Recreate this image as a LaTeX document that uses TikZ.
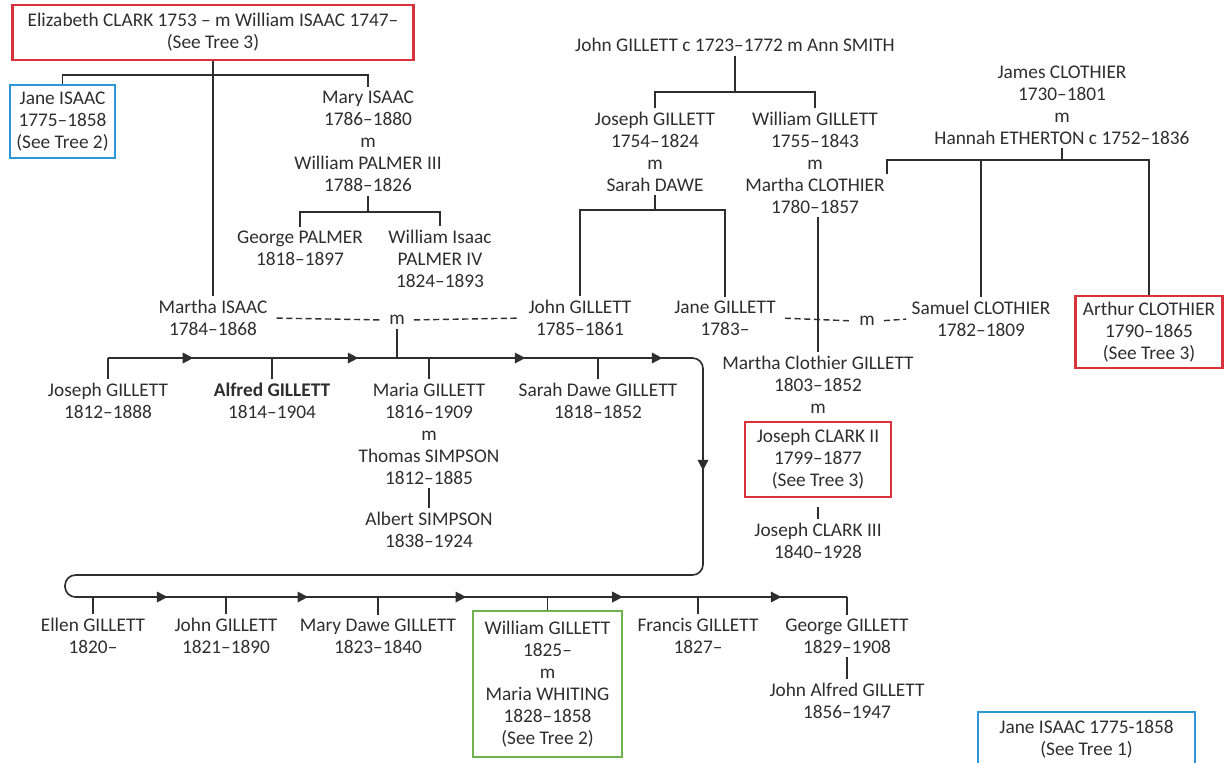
\documentclass[tikz,border=0pt]{standalone}
\usepackage{fontspec}
\setmainfont{Carlito}
\usetikzlibrary{arrows.meta,decorations.markings}
\definecolor{ink}{HTML}{2E2E2E}
\definecolor{treered}{HTML}{D8333B}
\definecolor{treeblue}{HTML}{2C96D6}
\definecolor{treegreen}{HTML}{6DB24F}

\begin{document}
\begin{tikzpicture}[x=0.02cm,y=-0.02cm,
  every node/.style={font=\fontsize{11}{12.5}\selectfont, text=ink, align=center, inner sep=2pt},
  framed/.style={draw=#1, line width=1.2pt, inner sep=0pt},
  link/.style={draw=ink, line width=0.95pt},
  wed/.style={draw=ink, line width=0.8pt, dash pattern=on 3.5pt off 2pt, shorten <=3pt, shorten >=3pt},
  midarrow/.style={postaction={decorate},
    decoration={markings, mark=at position #1 with {\arrow{Triangle[length=6pt,width=6pt]}}}},
]
\useasboundingbox (0,0) rectangle (1230,762);
\clip (0,0) rectangle (1230,762);

% ---------- Isaac family ----------
\node[framed=treered, minimum width=8.02cm, minimum height=1.1cm] (top) at (213,32.5)
  {Elizabeth CLARK 1753 – m William ISAAC 1747–\\(See Tree 3)};
\node[framed=treeblue, minimum width=2.1cm, minimum height=1.46cm] (janeA) at (62.5,121.5)
  {Jane ISAAC\\1775–1858\\(See Tree 2)};
\node (mary) at (368,141.5) {Mary ISAAC\\1786–1880\\m\\William PALMER III\\1788–1826};
\node (georgeP) at (300,248.5) {George PALMER\\1818–1897};
\node (wip) at (440,259) {William Isaac\\PALMER IV\\1824–1893};
\node (martha) at (213,318) {Martha ISAAC\\1784–1868};

% ---------- Gillett family ----------
\node (jg1723) at (735,45) {John GILLETT c 1723–1772 m Ann SMITH};
\node (josephG) at (655,151.5) {Joseph GILLETT\\1754–1824\\m\\Sarah DAWE};
\node (williamG) at (815,162.5) {William GILLETT\\1755–1843\\m\\Martha CLOTHIER\\1780–1857};
\node (johnG) at (580,318) {John GILLETT\\1785–1861};
\node (janeG) at (725,318) {Jane GILLETT\\1783–};
\node (m1) at (397,320) {m};

% ---------- Clothier family ----------
\node (james) at (1062,105) {James CLOTHIER\\1730–1801\\m\\Hannah ETHERTON c 1752–1836};
\node (samuel) at (981,319) {Samuel CLOTHIER\\1782–1809};
\node[framed=treered, minimum width=2.94cm, minimum height=1.44cm] (arthur) at (1149,332)
  {Arthur CLOTHIER\\1790–1865\\(See Tree 3)};
\node (m2) at (867,321) {m};
\node (marthaCG) at (818,385) {Martha Clothier GILLETT\\1803–1852\\m};
\node[framed=treered, minimum width=2.92cm, minimum height=1.5cm] (clark2) at (818,459.5)
  {Joseph CLARK II\\1799–1877\\(See Tree 3)};
\node (clark3) at (818,541) {Joseph CLARK III\\1840–1928};

% ---------- children of John and Martha ----------
\node (josephC) at (108,400.5) {Joseph GILLETT\\1812–1888};
\node (alfred) at (272,400.5) {\textbf{Alfred GILLETT}\\1814–1904};
\node (maria) at (429,433.5) {Maria GILLETT\\1816–1909\\m\\Thomas SIMPSON\\1812–1885};
\node (albert) at (429,529.5) {Albert SIMPSON\\1838–1924};
\node (sarahDG) at (598,400.5) {Sarah Dawe GILLETT\\1818–1852};

\node (ellen) at (93,636) {Ellen GILLETT\\1820–};
\node (johnC) at (226,636) {John GILLETT\\1821–1890};
\node (maryDG) at (378,636) {Mary Dawe GILLETT\\1823–1840};
\node[framed=treegreen, minimum width=2.98cm, minimum height=2.92cm] (williamC) at (547.5,684)
  {William GILLETT\\1825–\\m\\Maria WHITING\\1828–1858\\(See Tree 2)};
\node (francis) at (698,636) {Francis GILLETT\\1827–};
\node (georgeG) at (847,636) {George GILLETT\\1829–1908};
\node (johnAlfred) at (847,701) {John Alfred GILLETT\\1856–1947};

\node[framed=treeblue, minimum width=4.34cm, minimum height=1.08cm] (janeB) at (1086.5,739)
  {Jane ISAAC 1775-1858\\(See Tree 1)};

% ---------- junction points ----------
\coordinate (bIsaac) at (213,75);
\coordinate (bPalmer) at (368,212);
\coordinate (bGillett) at (735,92);
\coordinate (bDawe) at (655,210);
\coordinate (bClothier) at (1062,160);
\coordinate (mcTip) at (887,174);
\coordinate (wgFoot) at (marthaCG.north |- williamG.south);

% chain of children
\coordinate (t0) at (108,358);
\coordinate (k1) at (alfred.north |- t0);
\coordinate (kM) at (m1.south |- t0);
\coordinate (k2) at (maria.north |- t0);
\coordinate (k3) at (sarahDG.north |- t0);
\coordinate (tRa) at (690,358);
\coordinate (tR) at (703,358);
\coordinate (tRb) at (703,369);
\coordinate (bRa) at (703,564);
\coordinate (bR) at (703,575);
\coordinate (bL) at (65,575);
\coordinate (bL2) at (65,597);
\coordinate (e1) at (ellen.north |- bL2);
\coordinate (e2) at (johnC.north |- bL2);
\coordinate (e3) at (maryDG.north |- bL2);
\coordinate (e4) at (williamC.north |- bL2);
\coordinate (e5) at (francis.north |- bL2);
\coordinate (bEnd) at (georgeG.north |- bL2);

% ---------- connectors ----------
\draw[link] (top.south) -- (martha.north);
\draw[link] (janeA.north) |- (bIsaac) -| (mary.north);
\draw[link] (mary.south) -- (bPalmer);
\draw[link] (georgeP.north) |- (bPalmer) -| (wip.north);

\draw[link] (jg1723.south) -- (bGillett);
\draw[link] (josephG.north) |- (bGillett) -| (williamG.north);
\draw[link] (josephG.south) -- (bDawe);
\draw[link] (johnG.north) |- (bDawe) -| (janeG.north);
\draw[link] (wgFoot) -- (marthaCG.north);

\draw[link] (james.south) -- (bClothier);
\draw[link] (mcTip) |- (bClothier) -| (arthur.north);
\draw[link] (samuel.north |- bClothier) -- (samuel.north);

\draw[wed] (martha.east) -- (m1.west);
\draw[wed] (m1.east) -- (johnG.west);
\draw[wed] (janeG.east) -- (m2.west);
\draw[wed, shorten >=1pt] (m2.east) -- (samuel.west);

\draw[link, shorten <=5pt] (clark2.south) -- (clark3.north);
\draw[link] (maria.south) -- (albert.north);
\draw[link] (georgeG.south) -- (johnAlfred.north);

% the line of children
\draw[link] (m1.south) -- (kM);
\draw[link, rounded corners=0.21cm] (t0) -- (tR) -- (bR) -- (bL) -- (bL2) -- (bEnd);
\draw[link, midarrow=0.52] (t0) -- (k1);
\draw[link, midarrow=0.55] (k1) -- (k2);
\draw[link, midarrow=0.57] (k2) -- (k3);
\draw[link, midarrow=0.7] (k3) -- (tRa);
\draw[link, midarrow=0.52] (tRb) -- (bRa);
\draw[link, midarrow=0.56] (e1) -- (e2);
\draw[link, midarrow=0.54] (e2) -- (e3);
\draw[link, midarrow=0.52] (e3) -- (e4);
\draw[link, midarrow=0.5] (e4) -- (e5);
\draw[link, midarrow=0.56] (e5) -- (bEnd);

\draw[link] (t0) -- (josephC.north);
\draw[link] (k1) -- (alfred.north);
\draw[link] (k2) -- (maria.north);
\draw[link] (k3) -- (sarahDG.north);
\draw[link] (e1) -- (ellen.north);
\draw[link] (e2) -- (johnC.north);
\draw[link] (e3) -- (maryDG.north);
\draw[link] (e4) -- (williamC.north);
\draw[link] (e5) -- (francis.north);
\draw[link] (bEnd) -- (georgeG.north);
\end{tikzpicture}
\end{document}
